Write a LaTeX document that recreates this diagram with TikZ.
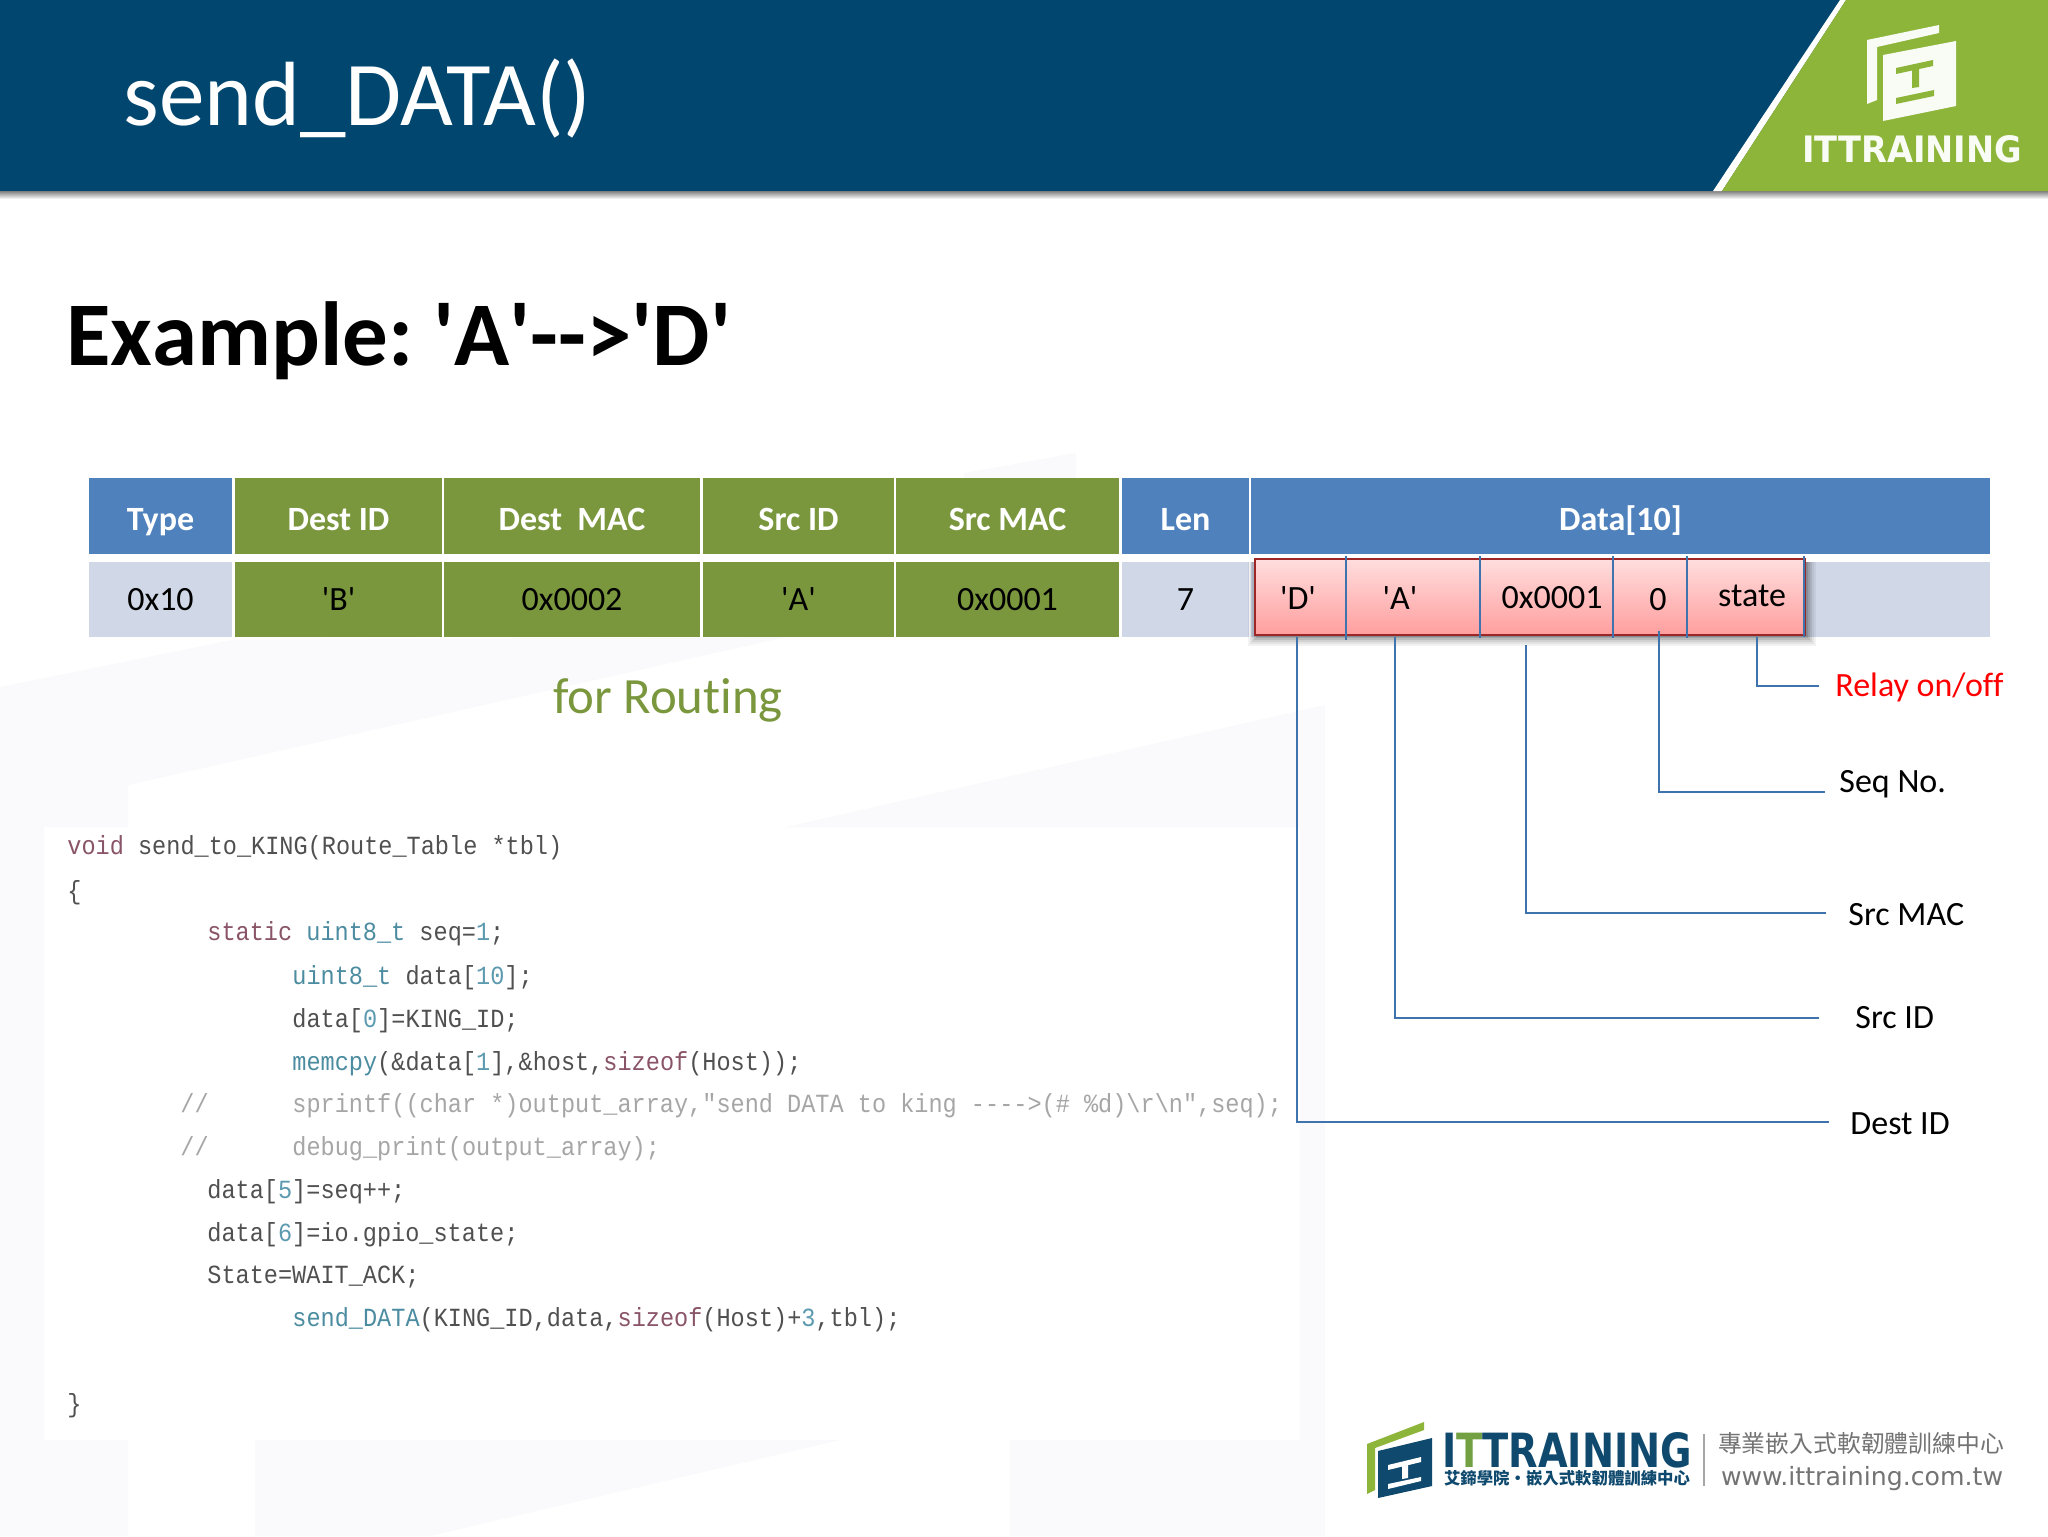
\documentclass[tikz,border=0pt]{standalone}
\usepackage{fontspec}
\usetikzlibrary{calc}
\newfontfamily\bodyf[Ligatures=NoCommon]{Carlito}
\newfontfamily\headf[Ligatures=NoCommon,Kerning=Off]{Carlito}
\newfontfamily\codef[FakeStretch=0.9]{Liberation Mono}
\newfontfamily\logof{DejaVu Sans}
\newfontfamily\cjkf{Noto Sans CJK TC}
\definecolor{bandblue}{HTML}{01466E}
\definecolor{leaf}{HTML}{8DB53A}
\definecolor{hdblue}{HTML}{4F81BD}
\definecolor{olive}{HTML}{7A973E}
\definecolor{rowblue}{HTML}{D0D8E8}
\definecolor{wire}{HTML}{3F73AE}
\definecolor{faint}{HTML}{FAFAFC}
\definecolor{navy}{HTML}{0F4A6E}
\definecolor{cplain}{HTML}{505050}
\definecolor{ckey}{HTML}{8A5468}
\definecolor{ctype}{HTML}{4C8CA0}
\definecolor{cnum}{HTML}{5C9AB0}
\definecolor{ccom}{HTML}{A6A6A6}
\newcommand{\kw}[1]{\textcolor{ckey}{#1}}
\newcommand{\ty}[1]{\textcolor{ctype}{#1}}
\newcommand{\nm}[1]{\textcolor{cnum}{#1}}
\tikzset{
  x=0.5pt,y=-0.5pt,
  cellbase/.style={inner sep=0pt,font=\bodyf\fontsize{17}{20}\selectfont,text=black},
  hblue/.style={cellbase,fill=hdblue,text=white,font=\bodyf\bfseries\fontsize{17}{20}\selectfont,minimum height=38pt,text height=14pt,text depth=0pt},
  hgreen/.style={hblue,fill=olive},
  rblue/.style={cellbase,fill=rowblue,minimum height=37.5pt},
  rgreen/.style={rblue,fill=olive},
  inbox/.style={cellbase},
  divider/.style={draw=wire,line width=0.6pt},
  wirel/.style={draw=wire,line width=0.75pt},
  tag/.style={cellbase,anchor=west,inner xsep=10pt,inner ysep=0pt},
  code/.style={inner sep=0pt,anchor=base west,font=\codef\fontsize{13.09}{15}\selectfont,text=cplain},
  comment/.style={code,text=ccom},
}
\begin{document}
\begin{tikzpicture}
\useasboundingbox (0,0) rectangle (2048,1536);
\fill[white] (0,0) rectangle (2048,1536);
% faint watermark
\fill[faint] (964,473) -- (1076,453) -- (1076,478) -- (964,478) -- cycle;
\fill[faint] (0,687) -- (232,640) -- (786,637) -- (128,785) -- (128,827) -- (44,827) -- (44,1440) -- (128,1440) -- (128,1536) -- (0,1536) -- cycle;
\fill[faint] (786,827) -- (1325,705) -- (1325,1536) -- (1010,1536) -- (1010,1440) -- (1300,1440) -- (1300,827) -- cycle;
\fill[faint] (255,1440) -- (840,1440) -- (430,1536) -- (255,1536) -- cycle;
% band
\fill[bandblue] (0,0) rectangle (2048,191);
\shade[top color=black!50,bottom color=white] (0,191) rectangle (2048,199);
\fill[white] (1713,191) -- (1840,0) -- (1846,0) -- (1722,191) -- cycle;
\fill[leaf] (1722,191) -- (1846,0) -- (2048,0) -- (2048,191) -- cycle;
% top logo
\fill[white!95!leaf] (1867,40) -- (1939,25) -- (1939,33) -- (1877,47) -- (1877,100) -- (1867,104) -- cycle;
\fill[white!95!leaf] (1883,55) -- (1956,41) -- (1956,106) -- (1883,121) -- cycle;
\fill[leaf] (1896,68) -- (1933,60) -- (1933,66) -- (1896,74) -- cycle;
\fill[leaf] (1912,70) -- (1919,68) -- (1919,87) -- (1912,88) -- cycle;
\fill[leaf] (1896,98) -- (1934,90) -- (1934,96) -- (1896,104) -- cycle;
\node[inner sep=0pt,text=white!95!leaf] (brandtop) at (1912,149) {\resizebox{110pt}{13.5pt}{\logof\bfseries ITTRAINING}};
% titles
\node[inner sep=0pt,anchor=base west,text=white,font=\bodyf\fontsize{45.6}{50}\selectfont] (title) at (123,126) {send\_DATA()};
\node[inner sep=0pt,anchor=base west,text=black,font=\headf\bfseries\fontsize{45.5}{52}\selectfont] (example) at (66,365) {Example: \kern-4pt'A'{-}{-}>'D'};
% table header
\node[hblue,minimum width=71.5pt] (hType) at (160.5,516) {Type};
\node[hgreen,minimum width=103.5pt] (hDestId) at (338.5,516) {Dest ID};
\node[hgreen,minimum width=128pt] (hDestMac) at (572,516) {Dest\ \ MAC};
\node[hgreen,minimum width=95.5pt] (hSrcId) at (798.5,516) {Src ID};
\node[hgreen,minimum width=111.5pt] (hSrcMac) at (1007.5,516) {Src MAC};
\node[hblue,minimum width=63.5pt] (hLen) at (1185.5,516) {Len};
\node[hblue,minimum width=369.5pt] (hData) at (1620.5,516) {Data[10]};
% table row
\node[rblue,minimum width=71.5pt] (rType) at (160.5,599.5) {0x10};
\node[rgreen,minimum width=103.5pt] (rDestId) at (338.5,599.5) {'B'};
\node[rgreen,minimum width=128pt] (rDestMac) at (572,599.5) {0x0002};
\node[rgreen,minimum width=95.5pt] (rSrcId) at (798.5,599.5) {'A'};
\node[rgreen,minimum width=111.5pt] (rSrcMac) at (1007.5,599.5) {0x0001};
\node[rblue,minimum width=63.5pt] (rLen) at (1185.5,599.5) {7};
\node[rblue,minimum width=369.5pt] (rData) at (1620.5,599.5) {};
% red box with soft shadow
\foreach \s/\o in {11/0.05,9/0.06,7/0.08,5/0.10,3/0.12}{
  \fill[black,opacity=\o] (1255-\s+4,562) rectangle (1805+\s,635+\s);
}
\shade[top color=red!13,bottom color=red!38,draw=red!55!black!85,line width=1.3pt] (1255,559) rectangle (1805,635);
\draw[divider] (1346,556) -- (1346,640);
\draw[divider] (1480,556) -- (1480,638);
\draw[divider] (1613,556) -- (1613,638);
\draw[divider] (1687,556) -- (1687,638);
\draw[divider] (1804,556) -- (1804,637);
\node[inbox] (cD) at (1298,598) {'D'};
\node[inbox] (cA) at (1400,598) {'A'};
\node[inbox] (cM) at (1552,598) {0x0001};
\node[inbox] (cS) at (1658,600) {0};
\node[inbox] (cT) at (1752,596) {state};
% routing
\node[inner sep=0pt,text=olive,font=\bodyf\fontsize{25.4}{30}\selectfont] (routing) at (668,700) {for Routing};
% labels
\node[tag,text=red,inner xsep=8pt,text depth=1pt] (lRelay) at (1819,686) {Relay on/off};
\node[tag,inner xsep=7pt,text height=9pt,text depth=9pt] (lSeq) at (1825,792) {Seq No.};
\node[tag,inner xsep=11pt,text height=13pt] (lMac) at (1826,913) {Src MAC};
\node[tag,inner xsep=18pt] (lId) at (1819,1018) {Src ID};
\node[tag,inner xsep=10.5pt,text height=13pt] (lDest) at (1829,1122) {Dest ID};
% connector feet
\coordinate (fD) at (1297,637);
\coordinate (fA) at (1395,637);
\coordinate (fM) at (1526,645);
\coordinate (fS) at (1659,631);
\coordinate (fT) at (1757,637);
\draw[wirel] (fD) |- (lDest.west);
\draw[wirel] (fA) |- (lId.west);
\draw[wirel] (fM) |- (lMac.west);
\draw[wirel] (fS) |- (lSeq.west);
\draw[wirel] (fT) |- (lRelay.west);
% code
\node[code] (c1) at (67,854.5) {\kw{void} send\_to\_KING(Route\_Table *tbl)};
\node[code] (c2) at (67,899) {\{};
\node[code] (c3) at (207,940.5) {\kw{static} \ty{uint8\_t} seq=\nm{1};};
\node[code] (c4) at (292,984) {\ty{uint8\_t} data[\nm{10}];};
\node[code] (c5) at (292,1027) {data[\nm{0}]=KING\_ID;};
\node[code] (c6) at (292,1070) {\ty{memcpy}(\&data[\nm{1}],\&host,\kw{sizeof}(Host));};
\node[comment] (c7a) at (180,1112) {//};
\node[comment] (c7) at (292,1112) {sprintf((char *)output\_array,"send DATA to king ---->(\# \%d)\textbackslash r\textbackslash n",seq);};
\node[comment] (c8a) at (180,1155) {//};
\node[comment] (c8) at (292,1155) {debug\_print(output\_array);};
\node[code] (c9) at (207,1198) {data[\nm{5}]=seq++;};
\node[code] (c10) at (207,1241) {data[\nm{6}]=io.gpio\_state;};
\node[code] (c11) at (207,1283) {State=WAIT\_ACK;};
\node[code] (c12) at (292,1326) {\ty{send\_DATA}(KING\_ID,data,\kw{sizeof}(Host)+\nm{3},tbl);};
\node[code] (c13) at (67,1412) {\}};
% bottom logo
\fill[leaf] (1367,1444) -- (1424,1422) -- (1424,1430) -- (1375,1448) -- (1375,1490) -- (1367,1494) -- cycle;
\fill[navy] (1378,1451) -- (1432,1438) -- (1432,1486) -- (1378,1498) -- cycle;
\fill[white] (1388,1465) -- (1421,1457) -- (1421,1462) -- (1388,1470) -- cycle;
\fill[white] (1402,1466) -- (1408,1465) -- (1408,1478) -- (1402,1479) -- cycle;
\fill[white] (1388,1484) -- (1421,1477) -- (1421,1481) -- (1388,1489) -- cycle;
\node[inner sep=0pt,text=navy] (brand) at (1567,1450) {\resizebox{125pt}{17.5pt}{\logof\bfseries I\textcolor{leaf!80!navy}{T}TRAINING}};
\node[inner sep=0pt,text=navy,font=\cjkf\bfseries\fontsize{9}{10}\selectfont] (brandsub) at (1567,1478) {\resizebox{123pt}{!}{艾鍗學院‧嵌入式軟韌體訓練中心}};
\draw[black!35,line width=0.7pt] (1704,1434) -- (1704,1486);
\node[inner sep=0pt,text=black!55] (sloganb) at (1861,1443) {\resizebox{143pt}{!}{\cjkf 專業嵌入式軟韌體訓練中心}};
\node[inner sep=0pt,text=black!55] (url) at (1862,1479) {\resizebox{141pt}{!}{\logof www.ittraining.com.tw}};
\end{tikzpicture}
\end{document}
